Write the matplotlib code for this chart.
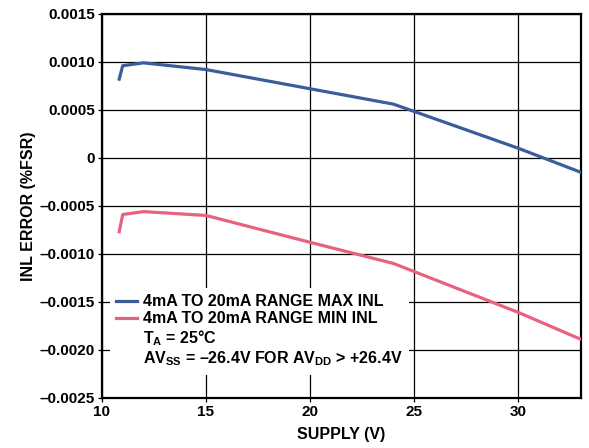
import matplotlib.pyplot as plt
from matplotlib.lines import Line2D

plt.rcParams['font.family'] = ['Liberation Sans', 'DejaVu Sans']
plt.rcParams['font.weight'] = 'bold'
plt.rcParams['mathtext.fontset'] = 'custom'
plt.rcParams['mathtext.rm'] = 'Liberation Sans:bold'
plt.rcParams['mathtext.default'] = 'rm'

# supply voltage (V) and INL error (%FSR)
max_x = [10.83, 11.0, 12.0, 15, 20, 24, 30, 33]
max_y = [0.00082, 0.00096, 0.00099, 0.00092, 0.00072, 0.00056, 0.0001, -0.00015]
min_x = [10.83, 11.0, 12.0, 15, 20, 24, 30, 33]
min_y = [-0.00077, -0.00059, -0.00056, -0.0006, -0.00088, -0.0011, -0.00161, -0.00189]

xticks = [10, 15, 20, 25, 30]
yticks = [0.0015, 0.0010, 0.0005, 0, -0.0005, -0.0010, -0.0015, -0.0020, -0.0025]
ylabels = ['0.0015', '0.0010', '0.0005', '0', '\u20130.0005', '\u20130.0010',
           '\u20130.0015', '\u20130.0020', '\u20130.0025']

fig, ax = plt.subplots(figsize=(5.89, 4.48), dpi=100)
fig.subplots_adjust(left=0.173, right=0.986, top=0.969, bottom=0.112)

blue = '#3b5d9c'
pink = '#e8617f'
ax.plot(max_x, max_y, color=blue, lw=2.3, zorder=3)
ax.plot(min_x, min_y, color=pink, lw=2.3, zorder=3)

ax.set_xlim(10, 33)
ax.set_ylim(-0.0025, 0.0015)
ax.set_xticks(xticks)
ax.set_yticks(yticks)
ax.set_yticklabels(ylabels)
ax.grid(True, color='black', lw=0.9)
for s in ax.spines.values():
    s.set_linewidth(1.6)
ax.tick_params(labelsize=11, length=3, width=0.9, pad=2)
ax.set_xlabel('SUPPLY (V)', fontsize=11.5, fontweight='bold', labelpad=6)
ax.set_ylabel('INL ERROR (%FSR)', fontsize=11.5, fontweight='bold', labelpad=3)

handles = [Line2D([], [], color=blue, lw=2.3),
           Line2D([], [], color=pink, lw=2.3),
           Line2D([], [], color='none'),
           Line2D([], [], color='none')]
labels = ['4mA TO 20mA RANGE MAX INL',
          '4mA TO 20mA RANGE MIN INL',
          'T$_{A}$ = 25\u00b0C',
          'AV$_{SS}$ = \u201326.4V FOR AV$_{DD}$ > +26.4V']
leg = ax.legend(handles, labels, loc='upper left', bbox_to_anchor=(0.0, 0.307),
                frameon=True, fancybox=False, edgecolor='none', framealpha=1,
                fontsize=11.5, handlelength=1.3, handletextpad=0.35,
                labelspacing=0.12, borderpad=0.4)
leg.set_zorder(5)

plt.savefig('out.png', dpi=100)
